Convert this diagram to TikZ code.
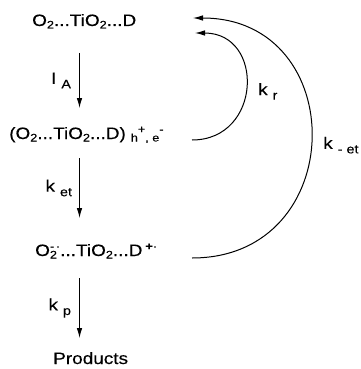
\documentclass[tikz,border=0pt]{standalone}
\usepackage{fontspec}
\setmainfont[FakeStretch=1.15,FakeBold=0.2]{Liberation Sans}
\usetikzlibrary{arrows.meta}
\tikzset{
  species/.style={inner sep=0pt,anchor=base west},
  rate/.style={inner sep=0pt},
  flow/.style={-{Latex[length=10pt,width=5.6pt]},line width=1pt},
}
\newcommand\dn[1]{\raisebox{-2.5pt}{\fontsize{11}{11}\selectfont #1}}
\newcommand\up[1]{\raisebox{6pt}{\fontsize{11}{11}\selectfont #1}}
\newcommand\rsub[1]{\hspace{5pt}\raisebox{-4.5pt}{\fontsize{12.5}{12.5}\selectfont #1}}
\begin{document}
\begin{tikzpicture}[x=1pt,y=-1pt,font=\fontsize{16.5}{19}\selectfont]
\useasboundingbox (0,0) rectangle (360,369);
% species
\node[species] (ground) at (32,26) {O\dn{2}...TiO\dn{2}...D};
\node[species] (excited) at (9,139) {(O\dn{2}...TiO\dn{2}...D)\hspace{5pt}\dn{h}\up{+}\dn{, e}\up{-}};
\node[species] (sep) at (35,256) {O\rlap{\dn{2}}\up{-\,\textperiodcentered}...TiO\dn{2}...D\hspace{3pt}\up{\textbf{+}\textperiodcentered}};
\node[species] (prod) at (53,364) {Products};
% forward steps
\coordinate (ax) at (79.5,0);
\draw[flow] ([yshift=-27pt]ax |- ground.base) -- ([yshift=31pt]ax |- excited.base)
  node[midway,rate,left=8pt] {I\rsub{A}};
\draw[flow] ([yshift=-19pt]ax |- excited.base) -- ([yshift=38pt]ax |- sep.base)
  node[midway,rate,left=7pt] {k\rsub{et}};
\draw[flow] ([yshift=-22pt]ax |- sep.base) -- ([yshift=26pt]ax |- prod.base)
  node[midway,rate,left=8pt] {k\rsub{p}};
% back reactions
\coordinate (rfrom) at (192,140);
\coordinate (rto) at (195,33);
\coordinate (bfrom) at (192,258);
\coordinate (bto) at (193,18);
\draw[flow] (rfrom) .. controls +(70,0) and +(70,0) .. (rto)
  node[pos=0.47,rate,right=12pt] {k\rsub{r}};
\draw[flow] (bfrom) .. controls +(158,0) and +(158,0) .. (bto)
  node[pos=0.48,rate,right=12pt] {k\rsub{- et}};
\end{tikzpicture}
\end{document}
